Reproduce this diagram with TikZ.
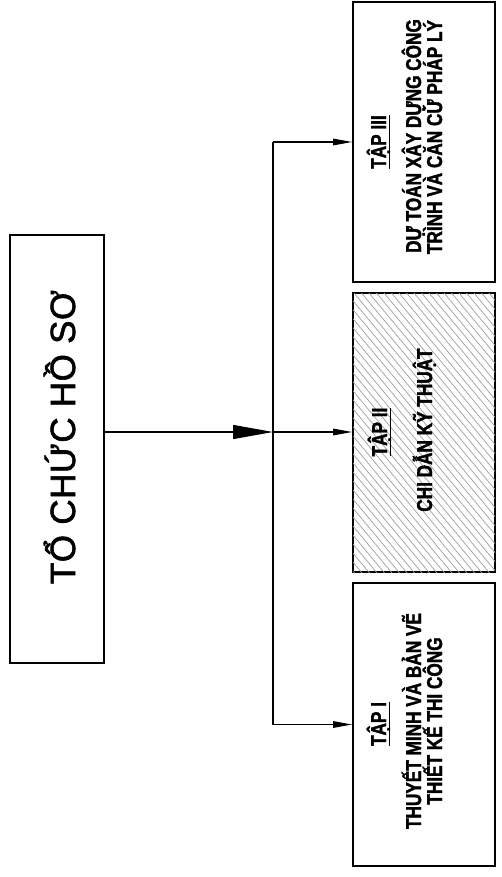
\documentclass[tikz,border=0pt]{standalone}
\usepackage{fontspec}
\setmainfont{Liberation Sans}
\newfontfamily\lblfont[FakeStretch=0.8,FakeBold=1.6]{Liberation Sans Bold}
\newfontfamily\ttlfont[FakeBold=1.6,LetterSpace=1.5]{Liberation Sans}
\usetikzlibrary{arrows.meta}
\newcommand\ulx[1]{\setbox0\hbox{#1}\rlap{\rule[-4pt]{\wd0}{1.4pt}}\box0}
\tikzset{
  box/.style={draw=black, line width=1.6pt, inner sep=0pt, fill=white},
  conn/.style={line width=1.3pt},
  bigarrow/.style={-{Triangle[length=40pt,width=14pt]}},
  smallarrow/.style={-{Triangle[length=19pt,width=6.5pt]}},
  lbl/.style={rotate=90, anchor=base, inner sep=0pt, font=\lblfont\fontsize{21.5}{24}\selectfont},
  title/.style={rotate=90, anchor=base, inner sep=0pt, font=\ttlfont\fontsize{35}{40}\selectfont},
  hatchline/.style={gray!75, line width=0.7pt}
}
\begin{document}
\begin{tikzpicture}[x=1pt,y=-1pt]
\useasboundingbox[fill=white] (0,0) rectangle (501,877);
% boxes
\node[box, minimum width=94pt, minimum height=428pt] (main) at (57,449) {};
\node[box, minimum width=142pt, minimum height=280pt] (top) at (424,142) {};
\node[box, minimum width=142pt, minimum height=279pt] (mid) at (424,432.5) {};
\node[box, minimum width=142pt, minimum height=283pt] (bot) at (424,724.5) {};
% hatch
\begin{scope}
  \clip ([shift={(0.8,-0.8)}]mid.south west) rectangle ([shift={(-0.8,0.8)}]mid.north east);
  \foreach \s in {114,121.5,...,500} \draw[hatchline] (\s,293) -- ++(233,280);
\end{scope}
% texts
\node[title] (ttl) at (75,437) {TỔ CHỨC HỒ SƠ};
\node[lbl] (t3a) at (386,142) {\ulx{TẬP III}};
\node[lbl] (t3b) at (421,136) {DỰ TOÁN XÂY DỰNG CÔNG};
\node[lbl] (t3c) at (442,137) {TRÌNH VÀ CĂN CỨ PHÁP LÝ};
\node[lbl] (t2a) at (387,432) {\ulx{TẬP II}};
\node[lbl] (t2b) at (432,430) {CHI DẪN KỸ THUẬT};
\node[lbl] (t1a) at (386,724) {\ulx{TẬP I}};
\node[lbl] (t1b) at (421,721) {THUYẾT MINH VÀ BẢN VẼ};
\node[lbl] (t1c) at (442,721) {THIẾT KẾ THI CÔNG};
% connectors
\coordinate (J) at (273,432);
\draw[conn, bigarrow] (main.east |- J) -- (J);
\draw[conn] (J |- top.west) -- (J |- bot.west);
\draw[conn, smallarrow] (J |- top.west) -- (top.west);
\draw[conn, smallarrow] (J) -- (mid.west |- J);
\draw[conn, smallarrow] (J |- bot.west) -- (bot.west);
\end{tikzpicture}
\end{document}
